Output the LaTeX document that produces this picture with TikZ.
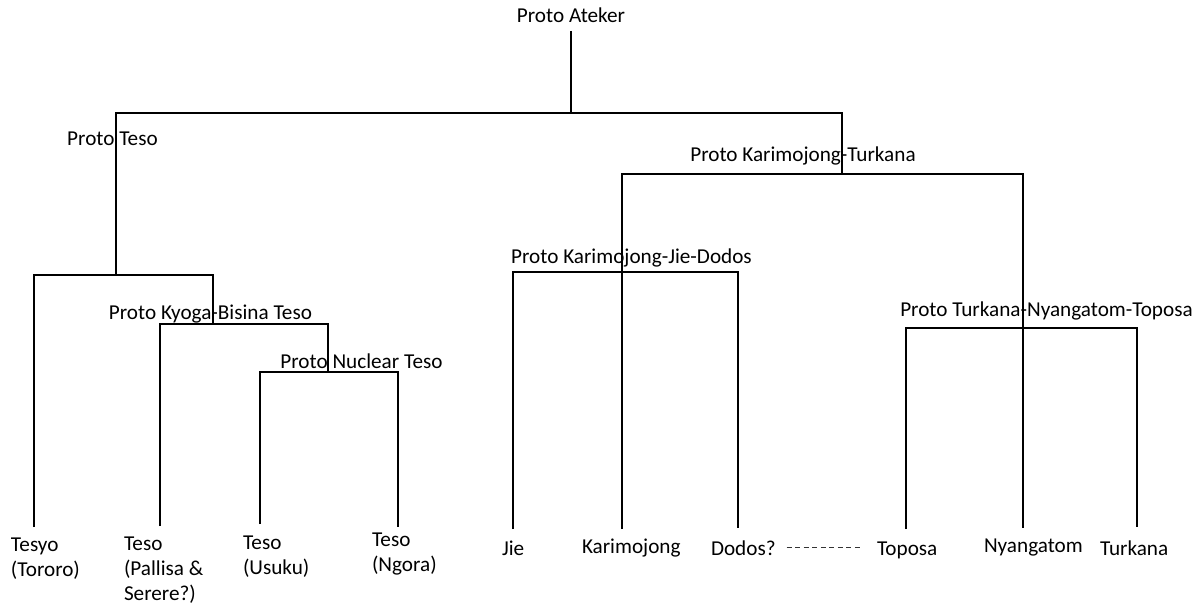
\documentclass[tikz,border=0pt]{standalone}
\usepackage{fontspec}
\setmainfont{Carlito}
\begin{document}
\begin{tikzpicture}[x=0.75pt,y=-0.75pt,
  lbl/.style={font=\fontsize{15.9}{18.75}\selectfont, inner sep=0pt, outer sep=0pt, text=black},
  proto/.style={lbl, anchor=base},
  leaf/.style={lbl, anchor=base west},
  leafm/.style={lbl, anchor=north west, align=left},
  branch/.style={draw=black, line width=1.3pt},
  link/.style={draw=black!80, line width=0.6pt, dash pattern=on 3.8pt off 2.6pt}]
\useasboundingbox (0,0) rectangle (1203,609);

% ancestral nodes
\node[proto] (ateker) at (571,22.7) {Proto Ateker};
\node[proto] (pteso) at (112.5,146) {Proto Teso};
\node[proto] (pkb) at (210.5,320) {Proto Kyoga-Bisina Teso};
\node[proto] (pnt) at (361.5,369) {Proto Nuclear Teso};
\node[proto] (pkt) at (803,162) {Proto Karimojong-Turkana};
\node[proto] (pkjd) at (631.5,264) {Proto Karimojong-Jie-Dodos};
\node[proto] (ptnt) at (1046.5,317) {Proto Turkana-Nyangatom-Toposa};

% present-day varieties
\node[leafm] (tesyo) at (11,538) {Tesyo\\(Tororo)};
\node[leafm] (pallisa) at (124,537) {Teso\\(Pallisa \&\\Serere?)};
\node[leafm] (usuku) at (243,535.5) {Teso\\(Usuku)};
\node[leafm] (ngora) at (372,532.5) {Teso\\(Ngora)};
\node[leaf] (jie) at (502,555) {Jie};
\node[leaf] (karimojong) at (582,553) {Karimojong};
\node[leaf] (dodos) at (711,555) {Dodos?};
\node[leaf] (toposa) at (877,555) {Toposa};
\node[leaf] (nyangatom) at (984,552) {Nyangatom};
\node[leaf] (turkana) at (1100,555) {Turkana};

% branching points
\coordinate (rootTop) at (571,31);
\coordinate (rootJ) at (571,113);
\coordinate (tesoJ) at (116,275);
\coordinate (ktJ) at (842,174);
\coordinate (kbJ) at (213,324);
\coordinate (ntJ) at (328,372);
\coordinate (kjdJ) at (622,272);
\coordinate (tntJ) at (1023,328);

% branch ends above the varieties
\coordinate (tesyoEnd) at (34,527);
\coordinate (pallisaEnd) at (160,526);
\coordinate (usukuEnd) at (260,524);
\coordinate (ngoraEnd) at (398,527);
\coordinate (jieEnd) at (513,529);
\coordinate (karimojongEnd) at (622,529);
\coordinate (dodosEnd) at (738,528);
\coordinate (toposaEnd) at (906,529);
\coordinate (nyangatomEnd) at (1023,528);
\coordinate (turkanaEnd) at (1137,527);

% tree
\draw[branch] (rootTop) -- (rootJ);
\draw[branch] (tesoJ) |- (rootJ) -| (ktJ);
\draw[branch] (tesyoEnd) |- (tesoJ) -| (kbJ);
\draw[branch] (pallisaEnd) |- (kbJ) -| (ntJ);
\draw[branch] (usukuEnd) |- (ntJ) -| (ngoraEnd);
\draw[branch] (karimojongEnd) |- (ktJ) -| (nyangatomEnd);
\draw[branch] (jieEnd) |- (kjdJ) -| (dodosEnd);
\draw[branch] (toposaEnd) |- (tntJ) -| (turkanaEnd);

% Dodos -- Toposa link
\draw[link, shorten <=8.25pt, shorten >=11.25pt] (dodos.east) -- (dodos.east -| toposa.west);
\end{tikzpicture}
\end{document}
